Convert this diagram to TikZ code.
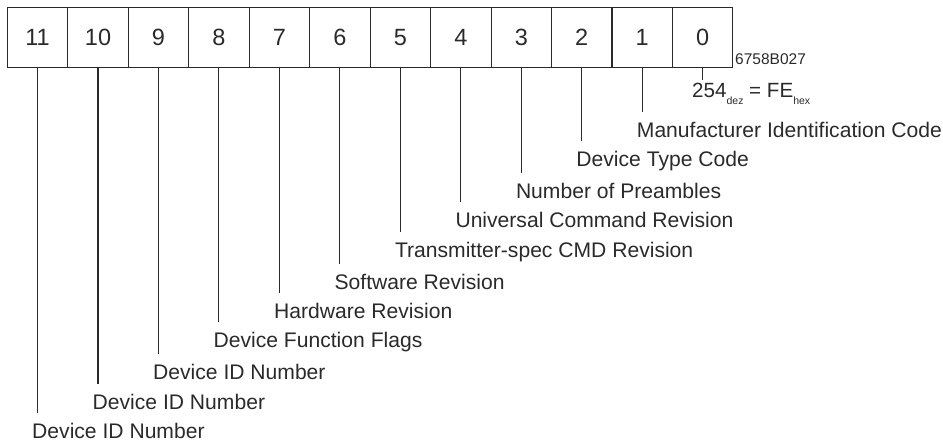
\documentclass[tikz,border=0pt]{standalone}
\usepackage{fontspec}
\setmainfont{Liberation Sans}
\definecolor{ink}{HTML}{2A2A2A}
\tikzset{
  cell/.style={draw=ink, line width=1.1pt, minimum width=60.47pt, minimum height=60pt, inner sep=0pt, text=ink, font=\fontsize{23.5}{24}\selectfont},
  lab/.style={anchor=base west, inner sep=0pt, text=ink, font=\fontsize{21.1}{22}\selectfont},
  conn/.style={draw=ink, line width=1.1pt},
  code/.style={anchor=base west, inner sep=0pt, text=ink, font=\fontsize{15.5}{16}\selectfont}
}
\newcommand{\sbx}[1]{\raisebox{-6pt}{\fontsize{10.5}{11}\selectfont #1}}
\begin{document}
\begin{tikzpicture}[x=1pt,y=-1pt]
\useasboundingbox (0,0) rectangle (943,444);
\foreach \d in {0,...,11} {
  \node[cell] (b\d) at ({7.3+(11-\d+0.5)*60.47},37.7) {\d};
}
\node[code] (code) at (735,65) {6758B027};
% labels: digit, baseline, text
\foreach \d/\yb/\t in {
  1/137/{Manufacturer Identification Code},
  2/166/{Device Type Code},
  3/198/{Number of Preambles},
  4/227/{Universal Command Revision},
  5/257/{Transmitter-spec CMD Revision},
  6/289/{Software Revision},
  7/318/{Hardware Revision},
  8/347/{Device Function Flags},
  9/379/{Device ID Number},
  10/409/{Device ID Number},
  11/438/{Device ID Number}} {
  \node[lab] (l\d) at ({7.3+(11-\d+0.5)*60.47-5.5},\yb) {\t};
  \coordinate (e\d) at ({7.3+(11-\d+0.5)*60.47},\yb-25);
  \draw[conn] (b\d.south) -- (e\d);
}
\node[lab, font=\fontsize{20.6}{22}\selectfont] (l0) at (692,98) {254\sbx{dez} = FE\sbx{hex}};
\coordinate (e0) at ({7.3+11.5*60.47},80);
\draw[conn] (b0.south) -- (e0);
\end{tikzpicture}
\end{document}
